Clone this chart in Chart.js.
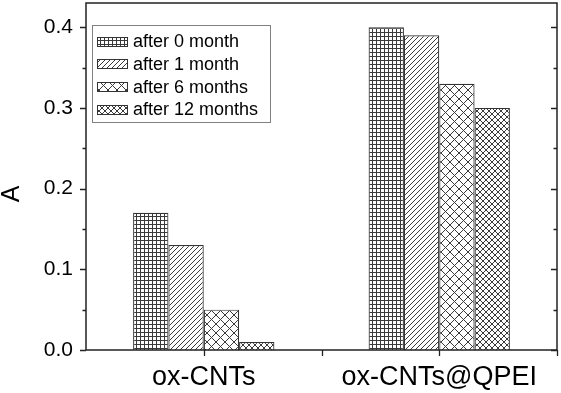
<!DOCTYPE html>
<html>
<head>
<meta charset="utf-8">
<script src="https://cdn.jsdelivr.net/npm/chart.js@4/dist/chart.umd.min.js"></script>
<style>
  html, body { margin: 0; padding: 0; background: #fff; }
  #wrap { width: 561px; height: 393px; }
</style>
</head>
<body>
<div id="wrap"><canvas id="grafico"></canvas></div>
<script>
// data
const categorias = ["ox-CNTs", "ox-CNTs@QPEI"];
const series = ["after 0 month", "after 1 month", "after 6 months", "after 12 months"];
const mes0 = [0.17, 0.40];
const mes1 = [0.13, 0.39];
const mes6 = [0.05, 0.33];
const mes12 = [0.01, 0.30];
const yTicks = [0.0, 0.1, 0.2, 0.3, 0.4];
const tituloY = "A";

const FONTE = "Arial, 'Liberation Sans', sans-serif";

function hachura(tipo) {
  const s = { grade: 4, diag: 5, cruz: 9, cruzFina: 6 }[tipo];
  const c = document.createElement("canvas");
  c.width = s;
  c.height = s;
  const g = c.getContext("2d");
  g.fillStyle = "#fff";
  g.fillRect(0, 0, s, s);
  g.strokeStyle = "#3a3a3a";
  g.lineWidth = 1;
  g.beginPath();
  if (tipo === "grade") {
    g.moveTo(0.5, 0); g.lineTo(0.5, s);
    g.moveTo(0, 0.5); g.lineTo(s, 0.5);
  }
  if (tipo !== "grade") {
    // "/" direction
    g.moveTo(-1, s + 1); g.lineTo(s + 1, -1);
    g.moveTo(-1, 1); g.lineTo(1, -1);
    g.moveTo(s - 1, s + 1); g.lineTo(s + 1, s - 1);
  }
  if (tipo === "cruz" || tipo === "cruzFina") {
    g.moveTo(-1, -1); g.lineTo(s + 1, s + 1);
    g.moveTo(s - 1, -1); g.lineTo(s + 1, 1);
    g.moveTo(-1, s - 1); g.lineTo(1, s + 1);
  }
  g.stroke();
  return g.createPattern(c, "repeat");
}

const padroes = [hachura("grade"), hachura("diag"), hachura("cruz"), hachura("cruzFina")];
const valores = [mes0, mes1, mes6, mes12];

// axes frame, ticks, y title and legend box
const moldura = {
  id: "moldura",
  afterDraw(chart) {
    const ctx = chart.ctx;
    const a = chart.chartArea;
    const x = chart.scales.x;
    const y = chart.scales.y;
    ctx.save();
    ctx.strokeStyle = "#222";
    ctx.lineWidth = 1.5;
    ctx.strokeRect(a.left, a.top, a.right - a.left, a.bottom - a.top);

    ctx.lineWidth = 1.3;
    ctx.beginPath();
    for (let v = 0; v <= 0.4001; v += 0.05) {
      const py = Math.round(y.getPixelForValue(v)) + 0.5;
      const maior = Math.abs(v * 10 - Math.round(v * 10)) < 1e-6;
      const len = maior ? 6 : 3.5;
      ctx.moveTo(a.left - len, py); ctx.lineTo(a.left, py);
      ctx.moveTo(a.right, py); ctx.lineTo(a.right - len, py);
    }
    const c0 = x.getPixelForValue(0);
    const c1 = x.getPixelForValue(1);
    [c0, (c0 + c1) / 2, c1, a.right].forEach((px) => {
      const p = Math.round(px) + 0.5;
      ctx.moveTo(p, a.bottom); ctx.lineTo(p, a.bottom + 6);
    });
    ctx.stroke();

    // y title
    ctx.fillStyle = "#000";
    ctx.font = "25px " + FONTE;
    ctx.textAlign = "center";
    ctx.textBaseline = "middle";
    ctx.translate(12, 194);
    ctx.rotate(-Math.PI / 2);
    ctx.fillText(tituloY, 0, 0);
    ctx.restore();

    // legend
    ctx.save();
    ctx.strokeStyle = "#808080";
    ctx.lineWidth = 1;
    ctx.strokeRect(92.5, 25.5, 178, 97);
    ctx.font = "18px " + FONTE;
    ctx.textBaseline = "middle";
    ctx.fillStyle = "#000";
    chart.data.datasets.forEach((ds, i) => {
      const cy = 41 + i * 22.8;
      ctx.fillStyle = ds.backgroundColor;
      ctx.fillRect(97, Math.round(cy - 4.5), 30, 9);
      ctx.strokeStyle = "#333";
      ctx.strokeRect(97.5, Math.round(cy - 4.5) + 0.5, 30, 9);
      ctx.fillStyle = "#000";
      ctx.fillText(ds.label, 133, cy + 1);
    });
    ctx.restore();
  },
};

new Chart(document.getElementById("grafico"), {
  type: "bar",
  data: {
    labels: categorias,
    datasets: series.map((nome, i) => ({
      label: nome,
      data: valores[i],
      backgroundColor: padroes[i],
      borderColor: "#333",
      borderWidth: 1.2,
    })),
  },
  options: {
    responsive: true,
    maintainAspectRatio: false,
    animation: false,
    devicePixelRatio: 1,
    layout: { padding: { top: 3, right: 4, left: 0, bottom: 0 } },
    datasets: { bar: { barPercentage: 1.0, categoryPercentage: 0.6 } },
    plugins: {
      legend: { display: false },
      tooltip: { enabled: false },
    },
    scales: {
      x: {
        grid: { display: false, drawTicks: false },
        border: { display: false },
        ticks: { color: "#000", font: { family: FONTE, size: 27 }, padding: 11 },
        afterFit: (s) => {
          s.height = 43;
          s.paddingLeft = 0;
          s.paddingRight = 0;
        },
      },
      y: {
        min: 0,
        max: 0.43,
        grid: { display: false, drawTicks: false },
        border: { display: false },
        ticks: {
          stepSize: 0.1,
          includeBounds: false,
          color: "#000",
          font: { family: FONTE, size: 21 },
          padding: 13,
          callback: (v) => {
            const t = yTicks.find((k) => Math.abs(k - v) < 1e-6);
            return t === undefined ? "" : t.toFixed(1);
          },
        },
        afterFit: (s) => {
          s.width = 86;
          s.paddingTop = 0;
          s.paddingBottom = 0;
        },
      },
    },
  },
  plugins: [moldura],
});
</script>
</body>
</html>
